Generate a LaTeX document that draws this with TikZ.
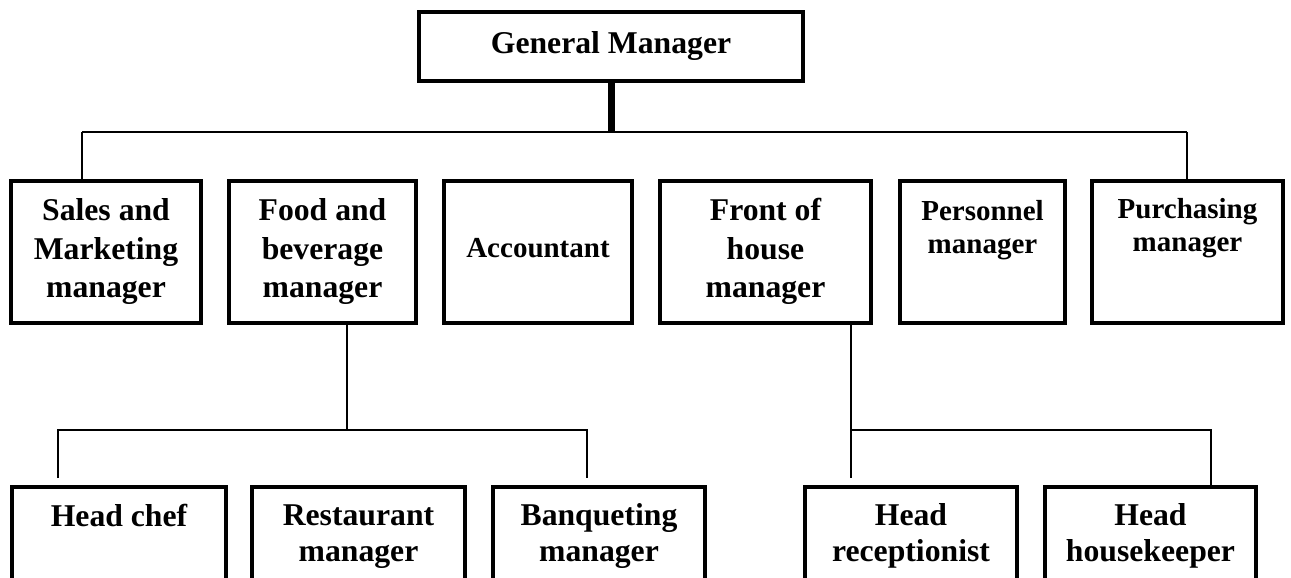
\documentclass[tikz,border=0pt]{standalone}
\usepackage{fontspec}
\setmainfont{Liberation Serif}
\setlength{\tabcolsep}{0pt}
\newcommand\ml[1]{\begin{tabular}[t]{@{}c@{}}#1\end{tabular}}
\tikzset{
  box/.style={draw, line width=4pt, rectangle, inner sep=0pt},
  conn/.style={line width=2pt},
  thickstem/.style={line width=7pt},
  lbl/.style={inner sep=0pt, anchor=base, font=\fontsize{31.7}{38.5}\selectfont\bfseries},
  lblc/.style={inner sep=0pt, anchor=base, font=\fontsize{31.7}{36.8}\selectfont\bfseries},
  lbls/.style={inner sep=0pt, anchor=base, font=\fontsize{29}{33.5}\selectfont\bfseries},
}
\begin{document}
\begin{tikzpicture}[x=1pt,y=-1pt]
\useasboundingbox[fill=white] (0,0) rectangle (1291,578);
\clip (0,0) rectangle (1291,578);

% boxes
\node[box, minimum width=384pt, minimum height=69pt] (gm) at (611,46.5) {};

\node[box, minimum width=190pt, minimum height=142pt] (sales) at (106,252) {};
\node[box, minimum width=187pt, minimum height=142pt] (food)  at (322.5,252) {};
\node[box, minimum width=188pt, minimum height=142pt] (acct)  at (538,252) {};
\node[box, minimum width=211pt, minimum height=142pt] (front) at (765.5,252) {};
\node[box, minimum width=165pt, minimum height=142pt] (pers)  at (982.5,252) {};
\node[box, minimum width=191pt, minimum height=142pt] (purch) at (1187.5,252) {};

\node[box, minimum width=214pt, minimum height=123pt] (chef)  at (119,548.5) {};
\node[box, minimum width=213pt, minimum height=123pt] (rest)  at (358.5,548.5) {};
\node[box, minimum width=212pt, minimum height=123pt] (banq)  at (599,548.5) {};
\node[box, minimum width=212pt, minimum height=123pt] (recep) at (911,548.5) {};
\node[box, minimum width=211pt, minimum height=123pt] (house) at (1150.5,548.5) {};

% connectors: top level
\coordinate (ja) at (82,132);
\coordinate (jb) at (1187,132);
\draw[thickstem] (gm.south) -- (gm.south |- ja);
\draw[conn] (ja) -- (jb);
\draw[conn] (ja) -- (ja |- sales.north);
\draw[conn] (jb) -- (jb |- purch.north);

% food and beverage branch
\coordinate (fd) at (347,430);
\coordinate (ka) at (58,430);
\coordinate (kb) at (587,430);
\coordinate (ea) at (58,478);
\coordinate (eb) at (587,478);
\draw[conn] (fd |- food.south) -- (fd);
\draw[conn] (ea) -- (ka) -- (kb) -- (eb);

% front of house branch
\coordinate (fr) at (851,430);
\coordinate (er) at (851,478);
\coordinate (kh) at (1211,430);
\draw[conn] (fr |- front.south) -- (er);
\draw[conn] (fr) -- (kh) -- (kh |- house.north);

% texts
\node[lbl] (tgm) at (611,53.3) {General Manager};
\node[lbl] (tsales) at (106,220.7) {\ml{Sales and\\Marketing\\manager}};
\node[lbl] (tfood) at (322.5,220.7) {\ml{Food and\\beverage\\manager}};
\node[lbls] (tacct) at (538,257) {Accountant};
\node[lbl] (tfront) at (765.5,220.5) {\ml{Front of\\house\\manager}};
\node[lbls] (tpers) at (982.5,220) {\ml{Personnel\\manager}};
\node[lbls] (tpurch) at (1187.5,218) {\ml{Purchasing\\manager}};

\node[lblc] (tchef) at (119,526) {Head chef};
\node[lblc] (trest) at (358.5,525) {\ml{Restaurant\\manager}};
\node[lblc] (tbanq) at (599,525) {\ml{Banqueting\\manager}};
\node[lblc] (trecep) at (911,525) {\ml{Head\\receptionist}};
\node[lblc] (thouse) at (1150.5,525) {\ml{Head\\housekeeper}};
\end{tikzpicture}
\end{document}
